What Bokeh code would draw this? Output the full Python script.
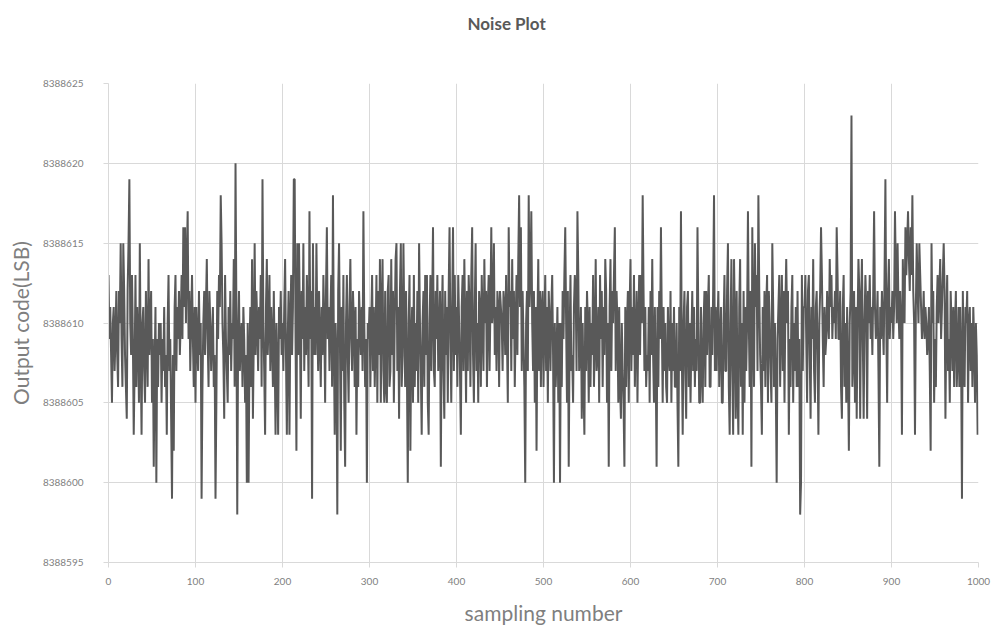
from bokeh.plotting import figure
from bokeh.models import Range1d, FixedTicker, NumeralTickFormatter, ColumnDataSource, Title
from bokeh.embed import file_html
from bokeh.resources import INLINE

# Output code of each sample, stored as offset from a base code (LSB)
CODE_BASE = 8388600
code_offset = [
    13, 9, 11, 8, 5, 10, 11, 7, 9, 12, 8, 6, 12, 10, 15, 9, 6, 15, 12, 8,
    6, 4, 12, 15, 19, 10, 8, 13, 9, 3, 7, 13, 6, 11, 9, 5, 15, 8, 3, 10,
    11, 7, 5, 12, 9, 6, 14, 8, 10, 12, 5, 9, 1, 7, 11, 0, 9, 6, 10, 8,
    10, 5, 9, 7, 11, 6, 8, 3, 10, 13, 7, 9, 4, -1, 8, 2, 11, 13, 7, 11,
    9, 12, 8, 10, 13, 9, 16, 11, 16, 10, 14, 17, 9, 12, 7, 10, 13, 9, 6, 11,
    5, 11, 9, 7, 12, 8, 10, -1, 6, 10, 12, 8, 11, 14, 9, 6, 12, 10, 7, 9,
    11, 6, 8, -1, 5, 12, 9, 13, 11, 18, 15, 10, 8, 4, 13, 9, 7, 5, 11, 8,
    12, 7, 10, 9, 14, 6, 20, 11, -2, 9, 12, 7, 9, 10, 6, 11, 9, 5, 8, 0,
    10, 0, 8, 11, 6, 14, 4, 9, 15, 8, 12, 10, 7, 11, 9, 13, 6, 19, 10, 7,
    3, 11, 14, 8, 10, 13, 7, 11, 9, 6, 12, 8, 3, 10, 7, 3, 11, 9, 12, 8,
    10, 7, 11, 14, 8, 3, 9, 12, 3, 10, 13, 8, 11, 19, 19, 9, 2, 15, 8, 15,
    10, 4, 12, 9, 15, 7, 11, 8, 13, 10, 6, 17, 9, 12, -1, 15, 8, 11, 8, 15,
    10, 7, 12, 9, 6, 11, 8, 13, 10, 5, 12, 16, 9, 11, 7, 10, 13, 6, 18, 9,
    3, 10, 8, -2, 12, 15, 9, 2, 11, 7, 13, 5, 1, 10, 13, 8, 5, 11, 14, 9,
    7, 12, 10, 6, 11, 3, 9, 6, 12, 10, 8, 11, 7, 17, 10, 6, 9, 0, 10, 9,
    11, 6, 10, 13, 7, 11, 6, 9, 13, 5, 12, 8, 14, 5, 11, 14, 7, 5, 12, 6,
    5, 12, 13, 6, 7, 14, 8, 12, 5, 10, 14, 15, 7, 11, 4, 12, 15, 6, 8, 15,
    10, 6, 12, 7, 0, 10, 13, 2, 9, 11, 5, 13, 6, 10, 7, 12, 5, 15, 10, 7,
    3, 10, 12, 6, 13, 8, 13, 5, 3, 10, 13, 7, 11, 16, 7, 6, 12, 9, 13, 7,
    9, 12, 1, 10, 13, 7, 4, 12, 8, 11, 5, 12, 16, 9, 5, 11, 16, 7, 13, 8,
    11, 6, 13, 10, 7, 3, 11, 13, 7, 14, 10, 5, 12, 7, 13, 11, 6, 13, 16, 8,
    5, 11, 15, 7, 10, 5, 12, 11, 6, 13, 10, 7, 14, 10, 12, 6, 11, 13, 7, 11,
    16, 10, 11, 15, 8, 11, 7, 12, 11, 6, 12, 11, 10, 7, 12, 11, 8, 13, 9, 5,
    16, 11, 12, 7, 14, 9, 12, 6, 10, 13, 8, 14, 18, 11, 16, 7, 12, 9, 6, 0,
    10, 12, 7, 18, 11, 13, 17, 10, 7, 12, 5, 11, 2, 10, 14, 7, 12, 6, 11, 12,
    6, 10, 13, 7, 11, 5, 12, 10, 7, 11, 13, 8, 0, 10, 6, 8, 11, 5, 10, 0,
    10, 6, 12, 9, 13, 16, 10, 5, 12, 1, 9, 13, 7, 8, 5, 11, 13, 12, 7, 17,
    13, 7, 8, 11, 4, 10, 6, 3, 11, 7, 12, 10, 5, 11, 6, 10, 8, 13, 6, 9,
    14, 7, 8, 11, 5, 13, 9, 12, 6, 11, 8, 14, 12, 5, 10, 1, 11, 14, 7, 12,
    10, 13, 16, 7, 12, 10, 5, 11, 6, 4, 10, 7, 5, 1, 11, 6, 10, 12, 5, 11,
    14, 7, 11, 8, 13, 6, 9, 12, 5, 10, 13, 8, 13, 10, 18, 12, 7, 11, 6, 8,
    7, 11, 5, 12, 8, 14, 8, 5, 11, 7, 1, 11, 6, 12, 9, 16, 10, 5, 11, 7,
    10, 6, 5, 11, 8, 7, 12, 5, 10, 7, 11, 6, 6, 10, 5, 1, 11, 7, 17, 8,
    3, 10, 12, 7, 4, 11, 12, 6, 10, 5, 9, 12, 7, 11, 6, 9, 7, 16, 10, 5,
    5, 11, 7, 5, 10, 12, 6, 12, 8, 11, 13, 6, 6, 11, 8, 12, 18, 7, 11, 7,
    10, 12, 6, 9, 11, 5, 5, 10, 13, 7, 7, 12, 15, 6, 3, 10, 14, 7, 3, 14,
    10, 4, 12, 6, 3, 11, 14, 6, 10, 3, 12, 5, 11, 7, 10, 17, 10, 6, 12, 1,
    16, 10, 6, 15, 11, 13, 7, 18, 12, 8, 6, 3, 11, 7, 12, 6, 11, 13, 5, 12,
    10, 7, 5, 15, 11, 6, 10, 6, 0, 9, 11, 13, 6, 10, 13, 7, 12, 5, 11, 14,
    10, 12, 3, 9, 6, 11, 13, 5, 10, 7, 11, 6, 12, 6, 9, -2, 0, 13, 7, 11,
    11, 13, 9, 5, 12, 13, 8, 4, 11, 9, 14, 7, 5, 11, 12, 8, 3, 10, 12, 16,
    13, 9, 6, 11, 8, 9, 12, 10, 9, 14, 11, 13, 9, 11, 10, 12, 9, 16, 13, 9,
    9, 12, 6, 4, 11, 13, 6, 10, 5, 11, 7, 2, 10, 12, 23, 6, 8, 12, 5, 11,
    4, 10, 14, 12, 4, 11, 14, 9, 4, 10, 13, 11, 4, 12, 10, 13, 9, 11, 8, 12,
    17, 11, 9, 10, 12, 7, 1, 11, 9, 12, 10, 8, 13, 19, 10, 5, 12, 14, 9, 11,
    10, 12, 9, 11, 17, 13, 10, 15, 11, 9, 12, 10, 3, 14, 11, 10, 16, 13, 15, 17,
    14, 12, 16, 13, 18, 12, 10, 3, 11, 15, 12, 10, 15, 13, 11, 9, 10, 12, 9, 11,
    10, 8, 9, 11, 7, 2, 15, 10, 12, 5, 9, 6, 11, 13, 10, 12, 14, 9, 11, 13,
    15, 12, 4, 10, 13, 7, 9, 5, 12, 10, 7, 11, 6, 10, 12, 6, 8, 11, 6, 11,
    8, -1, 12, 7, 6, 11, 10, 12, 5, 10, 11, 7, 10, 6, 11, 9, 5, 10, 8, 3,
]

x_ticks = [0, 100, 200, 300, 400, 500, 600, 700, 800, 900, 1000]
y_ticks = [8388595, 8388600, 8388605, 8388610, 8388615, 8388620, 8388625]

sample_number = list(range(len(code_offset)))
output_code = [CODE_BASE + v for v in code_offset]

src = ColumnDataSource(data=dict(x=sample_number, y=output_code))

FONT = "Lato"
TEXT_GREY = "#7f7f7f"
GRID_GREY = "#d9d9d9"

p = figure(
    width=992, height=627,
    output_backend="svg", toolbar_location=None,
    x_range=Range1d(0, 1000), y_range=Range1d(8388595, 8388625),
    min_border_left=108, min_border_right=14,
    min_border_top=83, min_border_bottom=64,
)
p.outline_line_color = None
p.background_fill_color = "white"
p.border_fill_color = "white"

p.line("x", "y", source=src, line_color="#595959", line_width=2)

# blank band between the plot area and the title
p.add_layout(Title(text=" ", text_font_size="1px", standoff=43), "above")

# title
p.title.text = "Noise Plot"
p.title.align = "left"
p.title.offset = 359
p.title.standoff = 8
p.title.text_font = FONT
p.title.text_font_size = "17px"
p.title.text_font_style = "bold"
p.title.text_color = "#595959"

# axes
p.xaxis.ticker = FixedTicker(ticks=x_ticks)
p.yaxis.ticker = FixedTicker(ticks=y_ticks)
p.yaxis.formatter = NumeralTickFormatter(format="0")

for ax in (p.xaxis[0], p.yaxis[0]):
    ax.axis_line_color = GRID_GREY
    ax.major_tick_line_color = GRID_GREY
    ax.major_tick_out = 5
    ax.major_tick_in = 0
    ax.minor_tick_line_color = None
    ax.major_label_text_font = FONT
    ax.major_label_text_font_size = "10px"
    ax.major_label_text_color = TEXT_GREY
    ax.axis_label_text_font = FONT
    ax.axis_label_text_font_size = "21px"
    ax.axis_label_text_font_style = "normal"
    ax.axis_label_text_color = TEXT_GREY

p.xaxis.axis_label = "sampling number"
p.xaxis.major_label_standoff = 10
p.xaxis.axis_label_standoff = 12

p.yaxis.axis_label = "Output code(LSB)"
p.yaxis.major_label_standoff = 20
p.yaxis.axis_label_standoff = 7

p.xgrid.grid_line_color = GRID_GREY
p.ygrid.grid_line_color = GRID_GREY

open("out.html", "w").write(file_html(p, INLINE))
